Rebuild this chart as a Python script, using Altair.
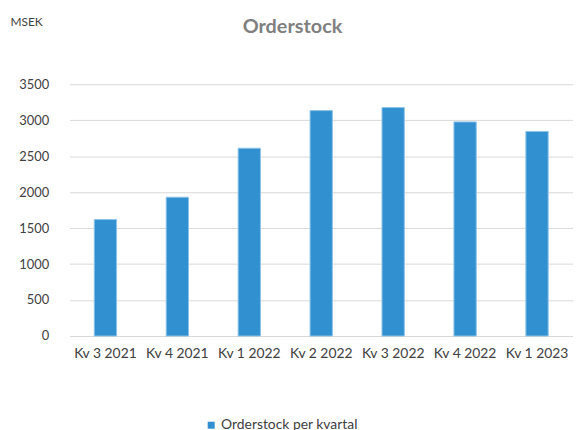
import altair as alt
import pandas as pd

quarters = ["Kv 3 2021", "Kv 4 2021", "Kv 1 2022", "Kv 2 2022", "Kv 3 2022", "Kv 4 2022", "Kv 1 2023"]
orderstock = [1618, 1929, 2610, 3133, 3175, 2976, 2844]
series_name = "Orderstock per kvartal"
y_ticks = [0, 500, 1000, 1500, 2000, 2500, 3000, 3500]

df = pd.DataFrame({"quarter": quarters, "value": orderstock, "series": [series_name] * len(quarters)})

FONT = "Lato"

chart = alt.Chart(df).mark_bar(stroke="#8cc2e8", strokeWidth=1).encode(
    x=alt.X("quarter:N", sort=quarters,
            scale=alt.Scale(paddingInner=0.69, paddingOuter=0.345),
            axis=alt.Axis(title=None, labelAngle=0, ticks=False, domain=True,
                          domainColor="#d9d9d9", labelFontSize=14, labelColor="#404040",
                          labelFont=FONT, labelPadding=11)),
    y=alt.Y("value:Q", scale=alt.Scale(domain=[0, 3500], nice=False),
            axis=alt.Axis(values=y_ticks, format="d", title="MSEK", titleAngle=0, titleX=-60, titleY=-59,
                          titleAlign="left", titleBaseline="alphabetic", titleFontSize=12,
                          titleFontWeight="normal", titleColor="#404040", titleFont=FONT,
                          ticks=False, domain=False, gridColor="#d9d9d9", labelFontSize=13,
                          labelColor="#404040", labelFont=FONT, labelPadding=21)),
    color=alt.Color("series:N", scale=alt.Scale(range=["#3191d0"]),
                    legend=alt.Legend(title=None, orient="none", legendX=136, legendY=337,
                                      symbolType="square", symbolSize=50, symbolStrokeWidth=0,
                                      labelOffset=3,
                                      labelFontSize=14, labelColor="#404040", labelFont=FONT)),
).properties(
    width=508,
    height=254,
    title=alt.TitleParams("Orderstock", fontSize=20, fontWeight="bold", color="#7f7f7f",
                          font=FONT, anchor="middle", dx=-29, offset=-21),
    autosize=alt.AutoSizeParams(type="none"),
    padding={"left": 62, "top": 75, "right": 0, "bottom": 100},
).configure_view(stroke=None)

chart.save("out.html", embed_options={"renderer": "svg", "actions": False})
